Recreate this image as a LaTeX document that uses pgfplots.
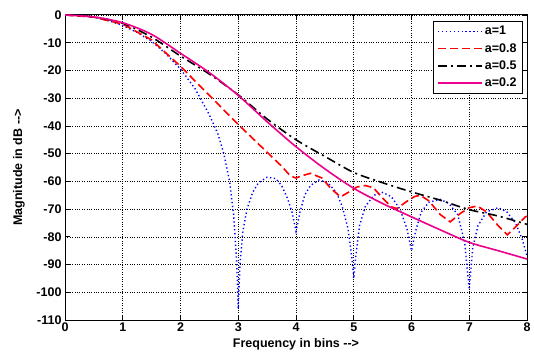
\documentclass[border=0pt]{standalone}
\usepackage{pgfplots}
\pgfplotsset{compat=1.18}
\usepackage{fontspec}
\setmainfont{Liberation Sans}
\newcommand{\ff}{\fontsize{12.5bp}{14bp}\selectfont\bfseries}
\begin{document}
\begin{tikzpicture}
\begin{axis}[
  scale only axis, width=462bp, height=305bp,
  xmin=0, xmax=8, ymin=-110, ymax=0,
  xtick={0,1,...,8}, ytick={-110,-100,...,0},
  grid=major, major grid style={black, dotted, line width=0.6bp},
  axis line style={black, line width=1bp},
  tick style={black, line width=0.8bp}, major tick length=5bp,
  tick align=inside, xtick pos=both, ytick pos=both,
  font=\ff,
  /pgf/number format/assume math mode=true,
  ticklabel style={font=\ff},
  xticklabel style={yshift=1bp},
  xlabel={Frequency in bins -{}->},
  ylabel={Magnitude in dB -{}->},
  xlabel style={at={(axis description cs:0.5,0)}, anchor=center, yshift=-24bp},
  ylabel style={at={(axis description cs:0,0.5)}, anchor=center, rotate=0, yshift=46bp},
  legend style={at={(1,1)}, anchor=north east, xshift=-4bp, yshift=-6bp,
    draw=black, line width=0.8bp, fill=white, inner xsep=4bp, inner ysep=3bp, row sep=3bp,
    font=\ff, cells={anchor=west}},
  legend image code/.code={\draw[#1] (0bp,0bp) -- (44bp,0bp);},
]
\addplot[blue, line width=1.4bp, dash pattern=on 1.3bp off 2.6bp] coordinates {
(0,0) (0.25,-0.2) (0.5,-0.8) (0.75,-2) (1,-3.8) (1.25,-6.3) (1.5,-9.5) (1.75,-14)
(2,-19.5) (2.25,-26.5) (2.5,-36) (2.65,-43) (2.75,-50) (2.85,-60) (2.92,-72) (2.97,-88)
(3.0,-106) (3.03,-90) (3.08,-78) (3.15,-70) (3.25,-64) (3.35,-60.5) (3.5,-58.5) (3.65,-59)
(3.75,-61.5) (3.85,-66) (3.93,-71) (4.0,-78) (4.07,-71) (4.15,-65) (4.25,-61.5) (4.4,-59.5)
(4.55,-60.5) (4.7,-64) (4.8,-69) (4.9,-77) (4.97,-88) (5.0,-95) (5.03,-88) (5.1,-76)
(5.2,-69) (5.35,-65) (5.5,-64) (5.65,-65.5) (5.8,-70) (5.92,-77) (6.0,-85) (6.07,-78)
(6.17,-71) (6.3,-67.5) (6.5,-66.5) (6.65,-68) (6.8,-72) (6.92,-82) (7.0,-99) (7.06,-84)
(7.15,-76) (7.3,-71) (7.5,-69.5) (7.65,-71) (7.8,-75) (7.92,-81) (8,-87)
};
\addlegendentry{a=1}
\addplot[red, line width=1.6bp, dash pattern=on 8bp off 4bp] coordinates {
(0,0) (0.5,-0.8) (1,-3.3) (1.5,-9) (2,-18.5) (2.5,-29) (3,-39.5) (3.5,-49.5)
(3.75,-54.5) (3.9,-58) (4.0,-58.8) (4.1,-58) (4.25,-57.1) (4.45,-58.8) (4.6,-62.5)
(4.77,-65.6) (4.92,-63.8) (5.06,-62) (5.2,-61.5) (5.34,-62.3) (5.5,-66) (5.65,-69.2)
(5.75,-69.8) (5.9,-67.5) (6.05,-65.5) (6.15,-65) (6.3,-67) (6.5,-72) (6.67,-74.6)
(6.85,-71.5) (7.0,-69.5) (7.14,-68.9) (7.3,-71) (7.5,-76) (7.66,-79.3) (7.8,-76.5)
(7.97,-72.8) (8,-72.6)
};
\addlegendentry{a=0.8}
\addplot[black, line width=1.6bp, dash pattern=on 9bp off 4bp on 2bp off 4bp, smooth] coordinates {
(0,0) (0.5,-0.7) (1,-3) (1.5,-8) (2,-14.8) (2.5,-21.3) (3,-28.8) (3.5,-37.5)
(4,-45) (4.5,-51) (5,-56.8) (5.5,-60.5) (6,-63.8) (6.5,-66.8) (7,-70.2) (7.5,-72.5)
(8,-75.5)
};
\addlegendentry{a=0.5}
\addplot[magenta, line width=1.6bp, smooth] coordinates {
(0,0) (0.5,-0.7) (1,-2.8) (1.5,-7) (2,-13.8) (2.5,-20.8) (3,-29) (3.5,-38.5)
(4,-47.5) (4.5,-55.5) (5,-62.5) (5.5,-68) (6,-72.8) (6.5,-77.5) (7,-82) (7.5,-85)
(8,-88)
};
\addlegendentry{a=0.2}
\coordinate (sw) at (rel axis cs:0,0);
\coordinate (ne) at (rel axis cs:1,1);
\end{axis}
\path (sw) ++(-65bp,-34bp) rectangle ([shift={(7bp,15bp)}]ne);
\end{tikzpicture}
\end{document}
